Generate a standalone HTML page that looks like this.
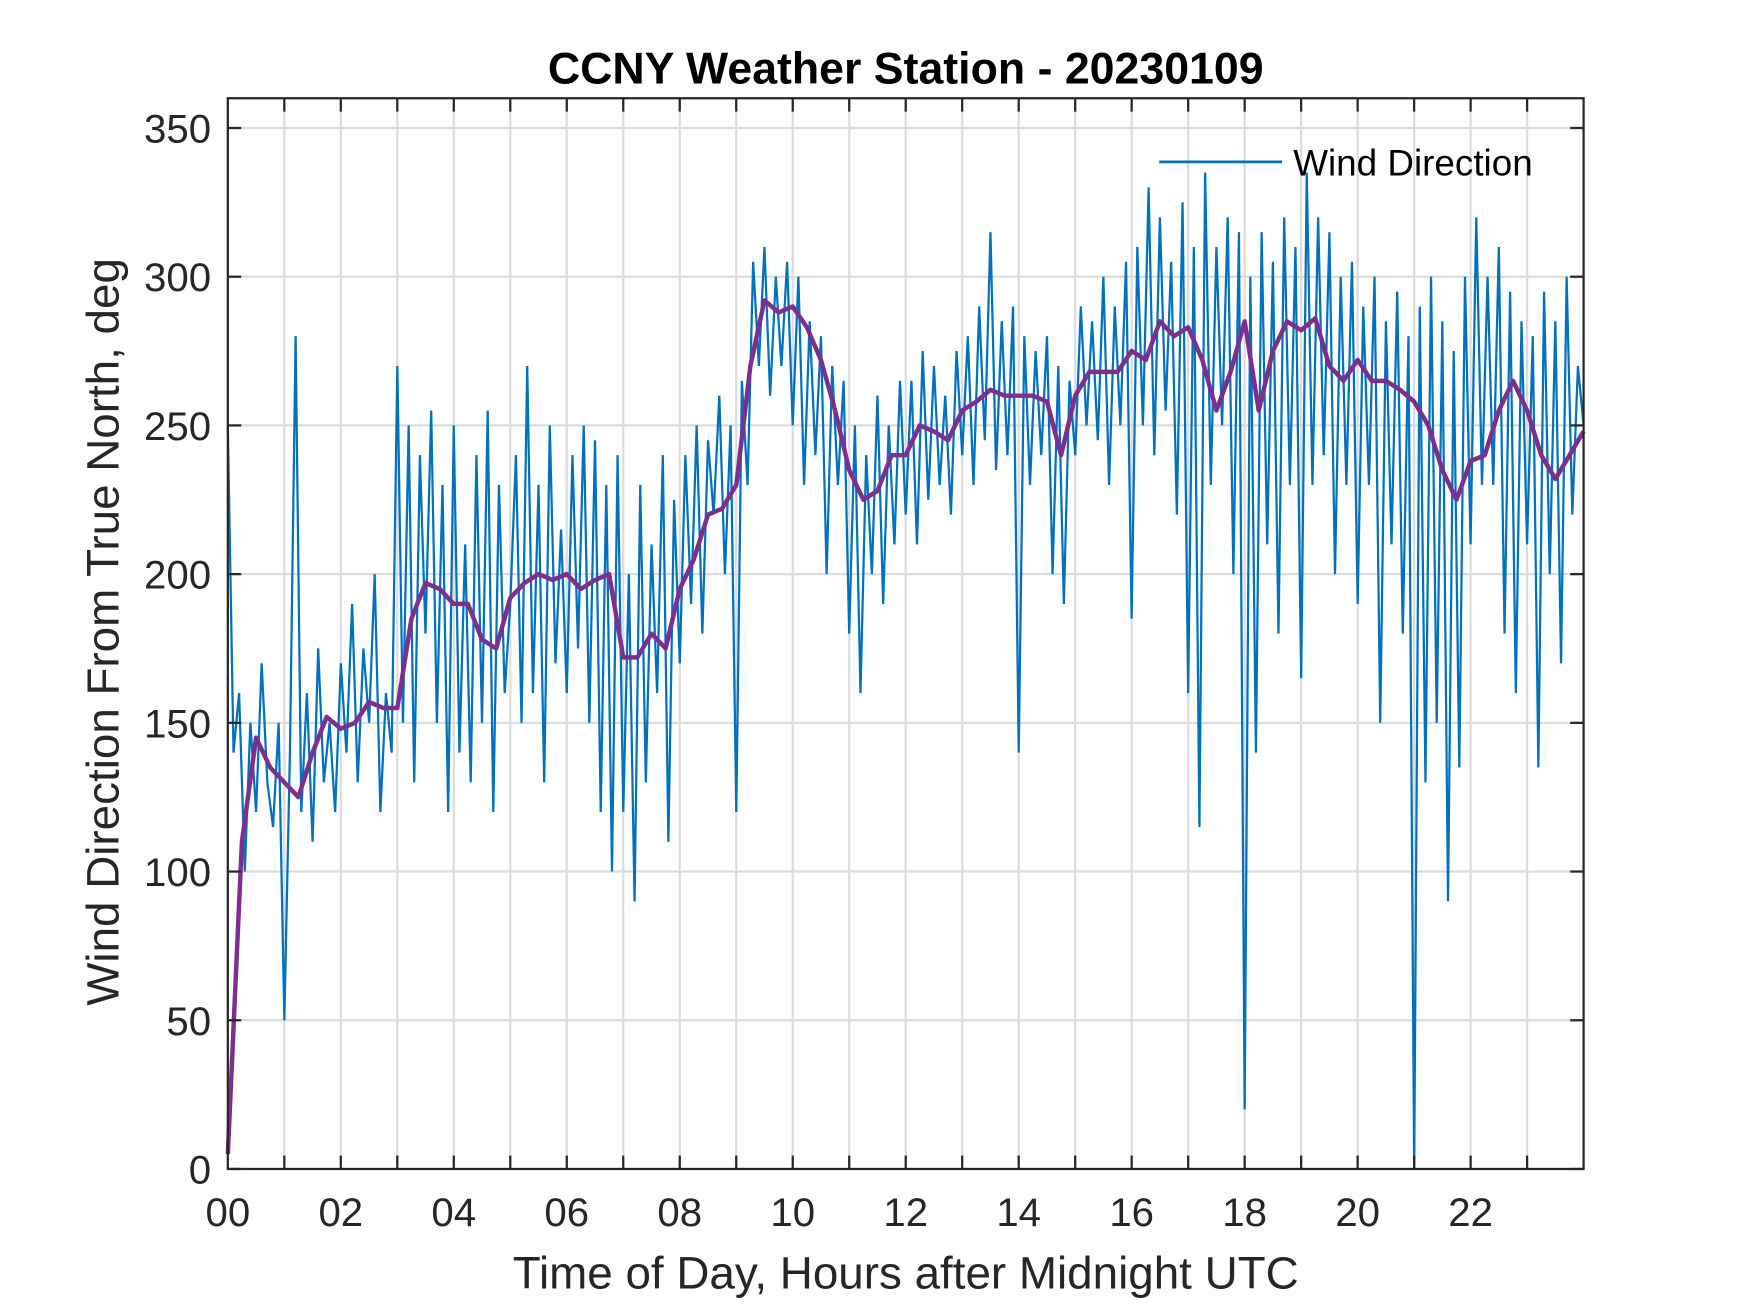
<!DOCTYPE html>
<html><head><meta charset="utf-8"><style>html,body{margin:0;padding:0;background:#fff}svg{display:block}</style></head>
<body>
<svg id="chart" width="1750" height="1313" viewBox="0 0 1567 1176" preserveAspectRatio="none" xmlns="http://www.w3.org/2000/svg" font-family="Liberation Sans, Arial, sans-serif">
<rect width="1567" height="1176" fill="#fff"/>
<rect x="204" y="88" width="1214" height="959" fill="#fff"/>
<g id="grid"></g>
<g id="series"></g>
<rect x="204" y="88" width="1214" height="959" fill="none" stroke="#262626" stroke-width="2"/>
<g id="ticks"></g>
<text x="811" y="75" text-anchor="middle" font-size="40" font-weight="bold" fill="#000">CCNY Weather Station - 20230109</text>
<text x="811" y="1154" text-anchor="middle" font-size="41" fill="#262626">Time of Day, Hours after Midnight UTC</text>
<text transform="translate(106,566) rotate(-90)" text-anchor="middle" font-size="41" fill="#262626">Wind Direction From True North, deg</text>
<g>
<line x1="1038" y1="145" x2="1148" y2="145" stroke="#0072BD" stroke-width="2.5"/>
<text x="1158" y="157" font-size="33" fill="#000">Wind Direction</text>
</g>
</svg>
<script>
const yTicks=[0,50,100,150,200,250,300,350];
const xTickLabels=["00","02","04","06","08","10","12","14","16","18","20","22"];
const xTickHours=[0,2,4,6,8,10,12,14,16,18,20,22];
const rawValues=[
250,140,160,100,150,120,170,130,115,150,
50,140,280,120,160,110,175,130,150,120,
170,140,190,130,175,150,200,120,160,140,
270,150,250,130,240,180,255,150,230,120,
250,140,210,130,240,150,255,120,230,160,
190,240,150,270,160,230,130,250,170,215,
160,240,175,250,150,245,120,230,100,240,
120,200,90,230,130,210,160,240,110,225,
170,240,190,250,180,245,220,260,200,250,
120,265,230,305,270,310,260,300,270,305,
250,300,230,285,240,280,200,270,230,265,
180,250,160,240,200,260,190,250,210,265,
220,265,210,275,225,270,230,260,220,275,
240,280,230,290,245,315,235,285,240,290,
140,280,230,275,240,280,200,270,190,265,
240,290,250,285,245,300,230,290,250,305,
185,310,250,330,240,320,255,305,220,325,
160,310,115,335,230,310,250,320,200,315,
20,300,140,315,210,305,180,320,230,310,
165,335,230,320,240,315,200,300,230,305,
190,290,230,300,150,285,210,295,180,280,
0,290,130,300,150,285,90,275,135,300,
210,320,230,300,230,310,180,295,160,285,
210,280,135,295,200,285,170,300,220,270,250];
const rawStepHours=0.1;
const trendValues=[5,110,145,135,130,125,140,152,148,150,157,155,155,
185,197,195,190,190,178,175,192,197,200,198,200,195,198,200,
172,172,180,175,195,205,220,222,230,270,292,288,290,283,272,255,
235,225,228,240,240,250,248,245,255,258,262,260,260,260,258,240,
260,268,268,268,275,272,285,280,283,272,255,268,285,255,275,285,
282,286,270,265,272,265,265,262,258,250,235,225,238,240,255,265,
255,240,232,240,248];
const trendStepHours=0.25;
const X0=204,X1=1418,Y0=1047,Y1=88;
const xs=h=>X0+h/24*(X1-X0);
const ys=v=>Y0-v/360*(Y0-Y1);
const NS="http://www.w3.org/2000/svg";
function mk(t,a,p){const e=document.createElementNS(NS,t);for(const k in a)e.setAttribute(k,a[k]);p.appendChild(e);return e;}
const grid=document.getElementById('grid'),ticks=document.getElementById('ticks'),series=document.getElementById('series');
for(let h=1;h<24;h++){
 const g=mk('line',{x1:xs(h),x2:xs(h),y1:Y1,y2:Y0,stroke:'#dcdcdc','stroke-width':2},grid);
 
 
}
for(const v of yTicks){
 const g=mk('line',{x1:X0,x2:X1,y1:ys(v),y2:ys(v),stroke:'#dcdcdc','stroke-width':2},grid);
 
 
 const t1=mk('line',{x1:X0,x2:X0+12,y1:ys(v),y2:ys(v),stroke:'#262626','stroke-width':2},ticks);
 
 
 const t2=mk('line',{x1:X1-12,x2:X1,y1:ys(v),y2:ys(v),stroke:'#262626','stroke-width':2},ticks);
 
 
 const l=mk('text',{x:X0-15,y:ys(v)+13,'text-anchor':'end','font-size':36,fill:'#262626'},ticks);
 l.textContent=v;
 
 
}
for(let h=1;h<24;h++){
 const a=mk('line',{x1:xs(h),x2:xs(h),y1:Y0-12,y2:Y0,stroke:'#262626','stroke-width':2},ticks);
 
 
 const b=mk('line',{x1:xs(h),x2:xs(h),y1:Y1,y2:Y1+12,stroke:'#262626','stroke-width':2},ticks);
 
 
}
xTickHours.forEach((h,i)=>{
 const l=mk('text',{x:xs(h),y:Y0+51,'text-anchor':'middle','font-size':36,fill:'#262626'},ticks);
 l.textContent=xTickLabels[i];
 
 
});
const rp=rawValues.map((v,i)=>xs(Math.min(24,i*rawStepHours)).toFixed(1)+','+ys(v).toFixed(1)).join(' ');
const raw=mk('polyline',{points:rp,fill:'none',stroke:'#0072BD','stroke-width':2},series);


const tp=trendValues.map((v,i)=>xs(Math.min(24,i*trendStepHours)).toFixed(1)+','+ys(v).toFixed(1)).join(' ');
const tr=mk('polyline',{points:tp,fill:'none',stroke:'#7E2F8E','stroke-width':4,'stroke-linejoin':'round'},series);


</script>
</body></html>
